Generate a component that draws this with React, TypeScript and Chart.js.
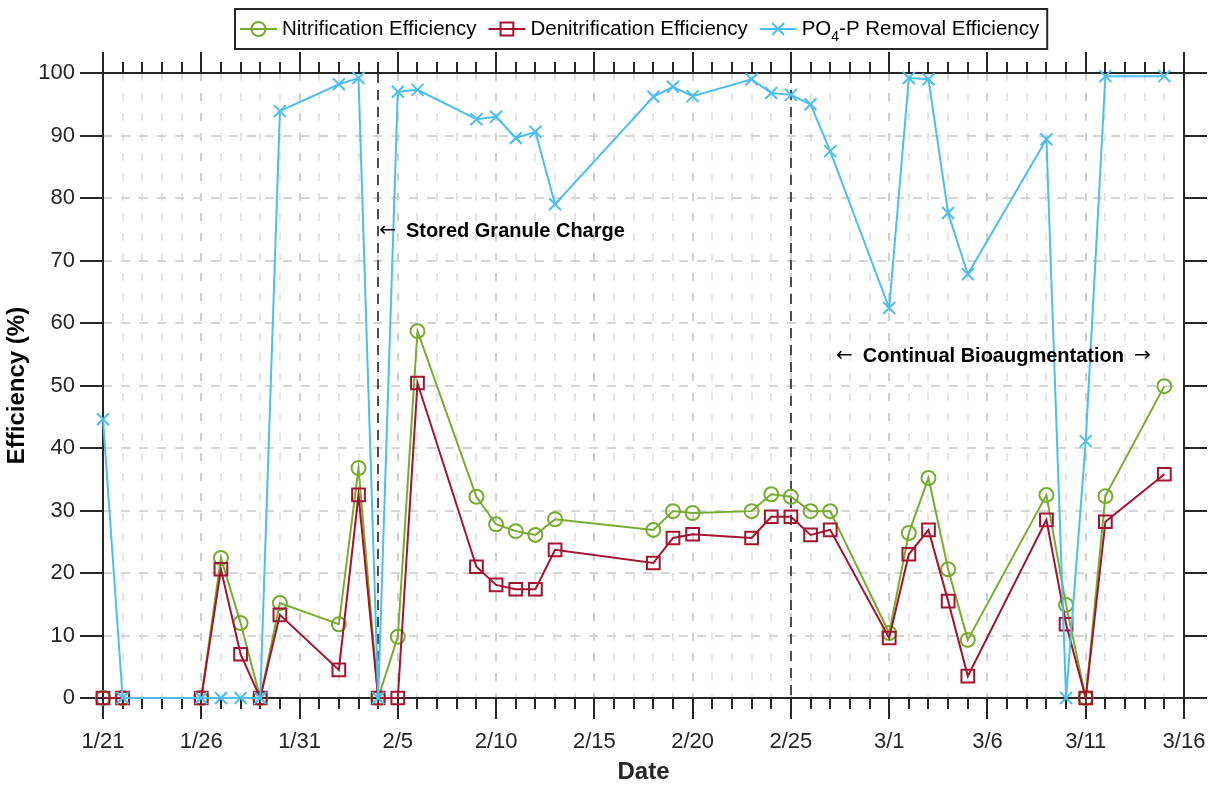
import React, { useEffect, useRef } from 'react';
import { Chart, registerables } from 'chart.js';

Chart.register(...registerables);

const YEAR = 2020; // leap year: 2/25 -> 3/1 spans 5 days on the axis
const START_DATE = '1/21';
const END_DATE = '3/16';

const dates = [
  '1/21', '1/22', '1/26', '1/27', '1/28', '1/29', '1/30', '2/2', '2/3', '2/4',
  '2/5', '2/6', '2/9', '2/10', '2/11', '2/12', '2/13', '2/18', '2/19', '2/20',
  '2/23', '2/24', '2/25', '2/26', '2/27', '3/1', '3/2', '3/3', '3/4', '3/5',
  '3/9', '3/10', '3/11', '3/12', '3/15',
];

const nitrification = [
  0, 0, 0, 22.4, 12.0, 0, 15.2, 11.8, 36.8, 0,
  9.8, 58.7, 32.2, 27.8, 26.7, 26.1, 28.6, 26.9, 29.9, 29.6,
  29.9, 32.6, 32.2, 29.9, 29.9, 10.4, 26.4, 35.2, 20.6, 9.3,
  32.5, 14.9, 0, 32.3, 49.9,
];

const denitrification = [
  0, 0, 0, 20.6, 7.0, 0, 13.3, 4.5, 32.5, 0,
  0, 50.4, 21.0, 18.1, 17.4, 17.4, 23.7, 21.6, 25.6, 26.2,
  25.6, 29.0, 29.0, 26.1, 26.9, 9.6, 23.0, 26.9, 15.5, 3.5,
  28.5, 11.8, 0, 28.2, 35.8,
];

const po4Removal = [
  44.6, 0, 0, 0, 0, 0, 93.9, 98.2, 99.2, 0,
  97.0, 97.3, 92.6, 93.0, 89.6, 90.6, 79.0, 96.2, 97.8, 96.3,
  99.0, 96.8, 96.5, 95.0, 87.5, 62.4, 99.2, 99.0, 77.6, 67.8,
  89.4, 0, 41.1, 99.5, 99.5,
];

const xTickLabels = ['1/21', '1/26', '1/31', '2/5', '2/10', '2/15', '2/20', '2/25', '3/1', '3/6', '3/11', '3/16'];
const yMin = 0;
const yMax = 100;
const yStep = 10;

const seriesLabels = ['Nitrification Efficiency', 'Denitrification Efficiency', 'PO4-P Removal Efficiency'];
const eventDates = ['2/4', '2/25'];

const GREEN = '#77AC30';
const RED = '#A2142F';
const BLUE = '#4DBEEE';
const AXIS = '#262626';
const FONT = "'Liberation Sans', Arial, Helvetica, sans-serif";
const ARROW_FONT = "'DejaVu Sans', sans-serif";

function dayIndex(md: string): number {
  const [m, d] = md.split('/').map(Number);
  const [m0, d0] = START_DATE.split('/').map(Number);
  return Math.round((Date.UTC(YEAR, m - 1, d) - Date.UTC(YEAR, m0 - 1, d0)) / 86400000);
}

function toPoints(values: number[]) {
  return dates.map((d, i) => ({ x: dayIndex(d), y: values[i] }));
}

function drawMarker(ctx: CanvasRenderingContext2D, kind: string, x: number, y: number, color: string) {
  ctx.save();
  ctx.strokeStyle = color;
  ctx.lineWidth = 2;
  ctx.beginPath();
  if (kind === 'circle') {
    ctx.arc(x, y, 7, 0, Math.PI * 2);
  } else if (kind === 'rect') {
    ctx.rect(x - 6.4, y - 6.4, 12.8, 12.8);
  } else {
    ctx.moveTo(x - 6, y - 6);
    ctx.lineTo(x + 6, y + 6);
    ctx.moveTo(x - 6, y + 6);
    ctx.lineTo(x + 6, y - 6);
  }
  ctx.stroke();
  ctx.restore();
}

const framePlugin = {
  id: 'frame',
  beforeDatasetsDraw(chart: any) {
    const ctx = chart.ctx as CanvasRenderingContext2D;
    const { left, right, top, bottom } = chart.chartArea;
    const xs = chart.scales.x;
    const ys = chart.scales.y;
    ctx.save();
    // event marker lines
    ctx.strokeStyle = '#4d4d4d';
    ctx.lineWidth = 2;
    ctx.setLineDash([10, 7]);
    for (const d of eventDates) {
      const px = Math.round(xs.getPixelForValue(dayIndex(d)));
      ctx.beginPath();
      ctx.moveTo(px, top);
      ctx.lineTo(px, bottom);
      ctx.stroke();
    }
    ctx.setLineDash([]);
    // box
    ctx.strokeStyle = AXIS;
    ctx.lineWidth = 2;
    ctx.beginPath();
    ctx.rect(left, top, right - left, bottom - top);
    ctx.stroke();
    // x tick marks (outward, top and bottom)
    ctx.beginPath();
    for (const t of xs.ticks) {
      const px = Math.round(xs.getPixelForValue(t.value));
      const major = Math.round(t.value) % 5 === 0;
      const len = major ? 21 : 11;
      ctx.moveTo(px, bottom);
      ctx.lineTo(px, bottom + len);
      ctx.moveTo(px, top);
      ctx.lineTo(px, top - len);
    }
    // y tick marks (outward, left and right)
    for (const t of ys.ticks) {
      const py = Math.round(ys.getPixelForValue(t.value));
      ctx.moveTo(left - 23, py);
      ctx.lineTo(left, py);
      ctx.moveTo(right, py);
      ctx.lineTo(right + 23, py);
    }
    ctx.stroke();
    ctx.restore();
  },
  afterDraw(chart: any) {
    const ctx = chart.ctx as CanvasRenderingContext2D;
    const xs = chart.scales.x;
    const ys = chart.scales.y;
    ctx.save();
    ctx.fillStyle = '#000';
    ctx.textBaseline = 'middle';
    ctx.textAlign = 'left';

    const drawAnno = (xVal: number, yVal: number, text: string, leftArrow: boolean, rightArrow: boolean) => {
      let cx = xs.getPixelForValue(xVal);
      const cy = ys.getPixelForValue(yVal) + 2;
      if (leftArrow) {
        ctx.font = `20px ${ARROW_FONT}`;
        ctx.fillText('\u2190', cx, cy);
        cx += ctx.measureText('\u2190').width + 10;
      }
      ctx.font = `bold 20px ${FONT}`;
      ctx.fillText(text, cx, cy);
      cx += ctx.measureText(text).width + 10;
      if (rightArrow) {
        ctx.font = `20px ${ARROW_FONT}`;
        ctx.fillText('\u2192', cx, cy);
      }
    };
    drawAnno(dayIndex('2/4') + 0.05, 75, 'Stored Granule Charge', true, false);
    drawAnno(37.3, 55, 'Continual Bioaugmentation', true, true);

    // legend
    const legendFont = `20.5px ${FONT}`;
    const subFont = `14px ${FONT}`;
    const items = [
      { kind: 'circle', color: GREEN, label: seriesLabels[0] },
      { kind: 'rect', color: RED, label: seriesLabels[1] },
      { kind: 'cross', color: BLUE, label: seriesLabels[2] },
    ];
    const boxLeft = 235;
    const boxTop = 9;
    const boxH = 40;
    const cy = boxTop + boxH / 2;
    ctx.font = legendFont;
    const widths = items.map((it) => {
      if (it.label.startsWith('PO4')) {
        ctx.font = legendFont;
        const a = ctx.measureText('PO').width;
        const c = ctx.measureText(it.label.slice(3)).width;
        ctx.font = subFont;
        const b = ctx.measureText('4').width;
        ctx.font = legendFont;
        return a + b + c;
      }
      return ctx.measureText(it.label).width;
    });
    let x = boxLeft + 5;
    const positions: number[] = [];
    items.forEach((_, i) => {
      positions.push(x);
      x += 42 + widths[i] + 12;
    });
    const boxRight = x - 12 + 8;
    ctx.fillStyle = '#fff';
    ctx.fillRect(boxLeft, boxTop, boxRight - boxLeft, boxH);
    ctx.strokeStyle = AXIS;
    ctx.lineWidth = 2;
    ctx.strokeRect(boxLeft, boxTop, boxRight - boxLeft, boxH);
    items.forEach((it, i) => {
      const lx = positions[i];
      ctx.strokeStyle = it.color;
      ctx.lineWidth = 2;
      ctx.beginPath();
      ctx.moveTo(lx, cy);
      ctx.lineTo(lx + 37, cy);
      ctx.stroke();
      drawMarker(ctx, it.kind, lx + 18.5, cy, it.color);
      ctx.fillStyle = '#000';
      let tx = lx + 42;
      if (it.label.startsWith('PO4')) {
        ctx.font = legendFont;
        ctx.fillText('PO', tx, cy);
        tx += ctx.measureText('PO').width;
        ctx.font = subFont;
        ctx.fillText('4', tx, cy + 8);
        tx += ctx.measureText('4').width;
        ctx.font = legendFont;
        ctx.fillText(it.label.slice(3), tx, cy);
      } else {
        ctx.font = legendFont;
        ctx.fillText(it.label, tx, cy);
      }
    });
    ctx.restore();
  },
};

export default function App() {
  const ref = useRef<HTMLCanvasElement>(null);

  useEffect(() => {
    const canvas = ref.current;
    if (!canvas) return;
    const xMin = dayIndex(START_DATE);
    const xMax = dayIndex(END_DATE);
    const tickMap = new Map<number, string>();
    xTickLabels.forEach((l) => tickMap.set(dayIndex(l), l));

    const chart = new Chart(canvas, {
      type: 'line',
      data: {
        datasets: [
          {
            label: seriesLabels[0],
            data: toPoints(nitrification),
            borderColor: GREEN,
            backgroundColor: 'transparent',
            borderWidth: 2,
            pointStyle: 'circle',
            pointRadius: 7,
            pointBorderWidth: 2,
            pointBorderColor: GREEN,
            pointBackgroundColor: 'transparent',
            tension: 0,
            clip: false,
            order: 2,
          },
          {
            label: seriesLabels[1],
            data: toPoints(denitrification),
            borderColor: RED,
            backgroundColor: 'transparent',
            borderWidth: 2,
            pointStyle: 'rect',
            pointRadius: 9,
            pointBorderWidth: 2,
            pointBorderColor: RED,
            pointBackgroundColor: 'transparent',
            tension: 0,
            clip: false,
            order: 1,
          },
          {
            label: seriesLabels[2],
            data: toPoints(po4Removal),
            borderColor: BLUE,
            backgroundColor: 'transparent',
            borderWidth: 2,
            pointStyle: 'crossRot',
            pointRadius: 8.5,
            pointBorderWidth: 2,
            pointBorderColor: BLUE,
            pointBackgroundColor: 'transparent',
            tension: 0,
            clip: false,
            order: 0,
          },
        ],
      } as any,
      options: {
        responsive: false,
        animation: false,
        devicePixelRatio: 1,
        events: [],
        layout: { padding: { top: 73, right: 30, left: 0, bottom: 0 } },
        plugins: {
          legend: { display: false },
          tooltip: { enabled: false },
          title: { display: false },
        },
        scales: {
          x: {
            type: 'linear',
            min: xMin,
            max: xMax,
            afterFit: (s: any) => {
              s.height = 89;
              s.paddingLeft = 0;
              s.paddingRight = 0;
            },
            grid: {
              color: (c: any) => (c.tick && Math.round(c.tick.value) % 5 === 0 ? '#cfcfcf' : '#e5e5e5'),
              lineWidth: 2,
              drawTicks: false,
            },
            border: { display: false, dash: [8, 12] },
            ticks: {
              stepSize: 1,
              autoSkip: false,
              maxRotation: 0,
              maxTicksLimit: 500,
              padding: 31,
              color: AXIS,
              font: { family: FONT, size: 22 },
              callback: (v: any) => tickMap.get(Math.round(Number(v))) ?? '',
            },
            title: {
              display: true,
              text: 'Date',
              color: AXIS,
              font: { family: FONT, size: 24, weight: 'bold' },
              padding: { top: 0, bottom: 0 },
            },
          },
          y: {
            type: 'linear',
            min: yMin,
            max: yMax,
            afterFit: (s: any) => {
              s.width = 103;
              s.paddingTop = 0;
              s.paddingBottom = 0;
            },
            grid: {
              color: '#d5d5d5',
              lineWidth: 2,
              drawTicks: false,
            },
            border: { display: false, dash: [9, 9] },
            ticks: {
              stepSize: yStep,
              padding: 28,
              color: AXIS,
              font: { family: FONT, size: 22 },
            },
            title: {
              display: true,
              text: 'Efficiency (%)',
              color: '#000',
              font: { family: FONT, size: 24, weight: 'bold' },
              padding: { top: 3, bottom: 0 },
            },
          },
        },
      } as any,
      plugins: [framePlugin],
    });
    return () => chart.destroy();
  }, []);

  return (
    <div style={{ position: 'fixed', left: 0, top: 0, width: 1214, height: 787, background: '#fff' }}>
      <canvas ref={ref} width={1214} height={787} style={{ display: 'block', width: 1214, height: 787 }} />
    </div>
  );
}
